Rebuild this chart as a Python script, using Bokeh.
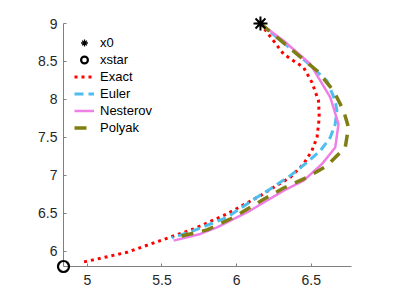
from bokeh.plotting import figure
from bokeh.models import Range1d, FixedTicker, Legend, LegendItem
from bokeh.embed import file_html
from bokeh.resources import INLINE

x0 = (6.16, 9.0)
xstar = (4.84, 5.80)

exact_x = [6.159, 6.315, 6.449, 6.505, 6.549, 6.554, 6.539, 6.505, 6.449, 6.36, 6.248, 6.159, 5.936, 5.712, 5.489, 5.266, 4.965]
exact_y = [9.0, 8.597, 8.421, 8.224, 7.983, 7.763, 7.50, 7.325, 7.15, 6.974, 6.842, 6.733, 6.492, 6.295, 6.141, 5.987, 5.855]

euler_x = [6.159, 6.472, 6.605, 6.661, 6.672, 6.661, 6.628, 6.561, 6.472, 6.36, 6.226, 6.137, 5.936, 5.712, 5.567]
euler_y = [9.0, 8.487, 8.246, 7.983, 7.851, 7.676, 7.50, 7.325, 7.171, 6.996, 6.821, 6.711, 6.447, 6.272, 6.176]

nest_x = [6.159, 6.315, 6.494, 6.628, 6.683, 6.661, 6.572, 6.449, 6.315, 6.092, 5.869, 5.757, 5.578]
nest_y = [9.0, 8.772, 8.466, 8.026, 7.676, 7.368, 7.15, 6.93, 6.80, 6.537, 6.316, 6.229, 6.141]

poly_x = [6.159, 6.405, 6.539, 6.65, 6.717, 6.75, 6.728, 6.606, 6.472, 6.315, 6.204, 5.98, 5.802, 5.578]
poly_y = [9.0, 8.597, 8.378, 8.114, 7.851, 7.632, 7.368, 7.128, 6.974, 6.834, 6.711, 6.447, 6.282, 6.176]

x_ticks = [5, 5.5, 6, 6.5]
x_tick_labels = ["5", "5.5", "6", "6.5"]
y_ticks = [6, 6.5, 7, 7.5, 8, 8.5, 9]
y_tick_labels = ["6", "6.5", "7", "7.5", "8", "8.5", "9"]

FONT = "Liberation Sans"

p = figure(width=391, height=291, output_backend="svg", toolbar_location=None,
           x_range=Range1d(4.84, 6.77), y_range=Range1d(5.80, 9.0),
           min_border_left=63, min_border_right=40, min_border_top=23, min_border_bottom=25)
p.outline_line_color = None
p.grid.visible = False
p.background_fill_color = "white"
p.border_fill_color = "white"

for ax in (p.xaxis[0], p.yaxis[0]):
    ax.axis_line_color = "#808080"
    ax.major_tick_line_color = "#808080"
    ax.minor_tick_line_color = None
    ax.major_tick_in = 3
    ax.major_tick_out = 0
    ax.major_label_text_font = FONT
    ax.major_label_text_font_size = "14px"
    ax.major_label_text_color = "#262626"

p.xaxis.ticker = FixedTicker(ticks=x_ticks)
p.yaxis.ticker = FixedTicker(ticks=y_ticks)
p.xaxis.major_label_overrides = {t: l for t, l in zip(x_ticks, x_tick_labels)}
p.yaxis.major_label_overrides = {t: l for t, l in zip(y_ticks, y_tick_labels)}
p.xaxis.major_label_standoff = 8
p.yaxis.major_label_standoff = 6

r_exact = p.line(exact_x, exact_y, line_color="#ff0000", line_width=3, line_dash="3 4")
r_euler = p.line(euler_x, euler_y, line_color="#4dbeee", line_width=3, line_dash="9 5")
r_nest = p.line(nest_x, nest_y, line_color="#ee7fe6", line_width=2.5)
r_poly = p.line(poly_x, poly_y, line_color="#7e7e12", line_width=3.5, line_dash="12 9")

# thin proxy (drawn under the main star) so the legend asterisk looks right
r_x0_leg = p.scatter([x0[0]], [x0[1]], marker="asterisk", size=8, line_color="black", line_width=1.3, level="overlay")
r_x0 = p.scatter([x0[0]], [x0[1]], marker="asterisk", size=14, line_color="black", line_width=2, level="overlay")
r_xs = p.scatter([xstar[0]], [xstar[1]], marker="circle", size=11, fill_color=None, line_color="black", line_width=2.2, level="overlay")

legend = Legend(items=[
    LegendItem(label="x0", renderers=[r_x0_leg]),
    LegendItem(label="xstar", renderers=[r_xs]),
    LegendItem(label="Exact", renderers=[r_exact]),
    LegendItem(label="Euler", renderers=[r_euler]),
    LegendItem(label="Nesterov", renderers=[r_nest]),
    LegendItem(label="Polyak", renderers=[r_poly]),
], location="top_left")
legend.border_line_color = None
legend.background_fill_alpha = 0
legend.margin = 11
legend.padding = 0
legend.spacing = 0
legend.glyph_width = 20
legend.glyph_height = 17
legend.label_height = 17
legend.label_standoff = 6
legend.label_text_font = FONT
legend.label_text_font_size = "13px"
legend.label_text_color = "black"
p.add_layout(legend)

open("out.html", "w").write(file_html(p, INLINE))
